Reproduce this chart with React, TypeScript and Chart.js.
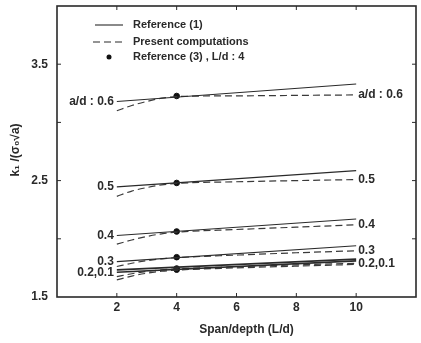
import React, { useEffect, useRef } from "react";
import { Chart, registerables } from "chart.js";

Chart.register(...registerables);

const SPAN_SOLID = [2, 10];
const SOLID_06 = [3.18, 3.33];
const SOLID_05 = [2.446, 2.586];
const SOLID_04 = [2.028, 2.17];
const SOLID_03 = [1.804, 1.94];
const SOLID_02 = [1.733, 1.825];
const SOLID_01 = [1.713, 1.81];

const SPAN_DASHED = [2, 2.5, 3, 3.5, 4, 6, 8, 10];
const DASHED_06 = [3.1, 3.145, 3.18, 3.208, 3.222, 3.228, 3.232, 3.236];
const DASHED_05 = [2.365, 2.41, 2.44, 2.463, 2.476, 2.49, 2.5, 2.509];
const DASHED_04 = [1.954, 1.99, 2.02, 2.043, 2.057, 2.08, 2.1, 2.12];
const DASHED_03 = [1.762, 1.79, 1.812, 1.828, 1.838, 1.86, 1.88, 1.897];
const DASHED_02 = [1.675, 1.7, 1.72, 1.734, 1.742, 1.76, 1.776, 1.79];
const DASHED_01 = [1.647, 1.68, 1.704, 1.721, 1.731, 1.75, 1.765, 1.78];

const DOT_SPAN = 4;
const DOTS = [3.227, 2.48, 2.063, 1.842, 1.745, 1.735];

const LEFT_LABELS = ["a/d : 0.6", "0.5", "0.4", "0.3", "0.2,0.1"];
const RIGHT_LABELS = ["a/d : 0.6", "0.5", "0.4", "0.3", "0.2,0.1"];

const X_TICKS = [2, 4, 6, 8, 10];
const Y_TICK_LABELS = [1.5, 2.5, 3.5];

const INK = "#2a2a2a";
const FONT = "'Liberation Sans', Arial, sans-serif";

const pts = (xs: number[], ys: number[]) => xs.map((x, i) => ({ x, y: ys[i] }));

export default function App() {
  const ref = useRef<HTMLCanvasElement | null>(null);

  useEffect(() => {
    if (!ref.current) return;
    const solids = [SOLID_06, SOLID_05, SOLID_04, SOLID_03, SOLID_02, SOLID_01];
    const dashed = [DASHED_06, DASHED_05, DASHED_04, DASHED_03, DASHED_02, DASHED_01];
    const datasets: any[] = [];
    solids.forEach((s, i) =>
      datasets.push({
        type: "line",
        data: pts(SPAN_SOLID, s),
        borderColor: INK,
        borderWidth: i >= 4 ? 1.6 : 1.1,
        pointRadius: 0,
        fill: false,
      })
    );
    dashed.forEach((d) =>
      datasets.push({
        type: "line",
        data: pts(SPAN_DASHED, d),
        borderColor: "#3a3a3a",
        borderWidth: 1.2,
        borderDash: [7, 4],
        pointRadius: 0,
        cubicInterpolationMode: "monotone",
        fill: false,
      })
    );
    datasets.push({
      type: "scatter",
      data: DOTS.map((y) => ({ x: DOT_SPAN, y })),
      backgroundColor: "#111",
      borderColor: "#111",
      pointRadius: 2.8,
      showLine: false,
    });

    const decor = {
      id: "decor",
      afterDraw(chart: any) {
        const { ctx, chartArea: a, scales } = chart;
        const xs = scales.x;
        const ys = scales.y;
        ctx.save();
        ctx.strokeStyle = INK;
        ctx.lineWidth = 1.6;
        ctx.strokeRect(a.left, a.top, a.right - a.left, a.bottom - a.top);
        ctx.lineWidth = 1;
        const tl = 4;
        X_TICKS.forEach((v) => {
          const px = xs.getPixelForValue(v);
          ctx.beginPath();
          ctx.moveTo(px, a.bottom);
          ctx.lineTo(px, a.bottom - tl);
          ctx.moveTo(px, a.top);
          ctx.lineTo(px, a.top + tl);
          ctx.stroke();
        });
        for (let v = 2.0; v <= 3.51; v += 0.5) {
          const py = ys.getPixelForValue(v);
          ctx.beginPath();
          ctx.moveTo(a.left, py);
          ctx.lineTo(a.left + tl, py);
          ctx.moveTo(a.right, py);
          ctx.lineTo(a.right - tl, py);
          ctx.stroke();
        }
        // curve labels
        ctx.fillStyle = INK;
        ctx.font = `bold 12px ${FONT}`;
        ctx.textBaseline = "middle";
        const leftY = [SOLID_06[0], SOLID_05[0], SOLID_04[0], SOLID_03[0], SOLID_01[0]];
        const rightY = [
          DASHED_06[DASHED_06.length - 1],
          DASHED_05[DASHED_05.length - 1],
          DASHED_04[DASHED_04.length - 1],
          DASHED_03[DASHED_03.length - 1],
          DASHED_02[DASHED_02.length - 1],
        ];
        ctx.textAlign = "right";
        LEFT_LABELS.forEach((t, i) => {
          ctx.fillText(t, xs.getPixelForValue(SPAN_SOLID[0]) - 3, ys.getPixelForValue(leftY[i]));
        });
        ctx.textAlign = "left";
        RIGHT_LABELS.forEach((t, i) => {
          ctx.fillText(t, xs.getPixelForValue(SPAN_SOLID[1]) + 2, ys.getPixelForValue(rightY[i]));
        });
        // legend
        ctx.font = `bold 11px ${FONT}`;
        ctx.lineWidth = 1.1;
        ctx.beginPath();
        ctx.moveTo(95, 25);
        ctx.lineTo(123, 25);
        ctx.stroke();
        ctx.fillText("Reference (1)", 133, 25);
        ctx.setLineDash([7, 4]);
        ctx.beginPath();
        ctx.moveTo(93, 42);
        ctx.lineTo(125, 42);
        ctx.stroke();
        ctx.setLineDash([]);
        ctx.fillText("Present computations", 133, 42);
        ctx.beginPath();
        ctx.arc(109, 57, 2.5, 0, Math.PI * 2);
        ctx.fillStyle = "#111";
        ctx.fill();
        ctx.fillStyle = INK;
        ctx.fillText("Reference (3) , L/d : 4", 133, 57);
        // axis titles
        ctx.font = `bold 12px ${FONT}`;
        ctx.textAlign = "center";
        ctx.fillText("Span/depth (L/d)", (a.left + a.right) / 2 + 10, 330);
        ctx.save();
        ctx.translate(16, 150);
        ctx.rotate(-Math.PI / 2);
        ctx.font = `bold 12px ${FONT}`;
        ctx.fillText("k\u2081 /(\u03C3\u2080\u221Aa)", 0, 0);
        ctx.restore();
        ctx.restore();
      },
    };

    const chart = new Chart(ref.current, {
      type: "line",
      data: { datasets },
      options: {
        responsive: false,
        animation: false,
        layout: { padding: { top: 6, right: 3, left: 0, bottom: 0 } },
        plugins: { legend: { display: false }, tooltip: { enabled: false } },
        scales: {
          x: {
            type: "linear",
            min: 0,
            max: 12,
            grid: { display: false, drawTicks: false },
            border: { display: false },
            ticks: {
              stepSize: 2,
              autoSkip: false,
              maxRotation: 0,
              padding: 3,
              color: INK,
              font: { family: FONT, size: 12, weight: "bold" },
              callback: (v: any) => (X_TICKS.includes(Number(v)) ? String(v) : ""),
            },
            afterFit: (s: any) => {
              s.height = 46;
              s.paddingLeft = 0;
              s.paddingRight = 0;
            },
          },
          y: {
            type: "linear",
            min: 1.5,
            max: 4.0,
            grid: { display: false, drawTicks: false },
            border: { display: false },
            ticks: {
              stepSize: 0.5,
              autoSkip: false,
              padding: 9,
              color: INK,
              font: { family: FONT, size: 12, weight: "bold" },
              callback: (v: any) =>
                Y_TICK_LABELS.some((t) => Math.abs(t - Number(v)) < 1e-6) ? Number(v).toFixed(1) : "",
            },
            afterFit: (s: any) => {
              s.width = 57;
              s.paddingTop = 0;
              s.paddingBottom = 0;
            },
          },
        },
      } as any,
      plugins: [decor],
    });
    return () => chart.destroy();
  }, []);

  return (
    <div style={{ position: "absolute", left: 0, top: 0, width: 421, height: 343, background: "#fff" }}>
      <canvas ref={ref} width={421} height={343} />
    </div>
  );
}
